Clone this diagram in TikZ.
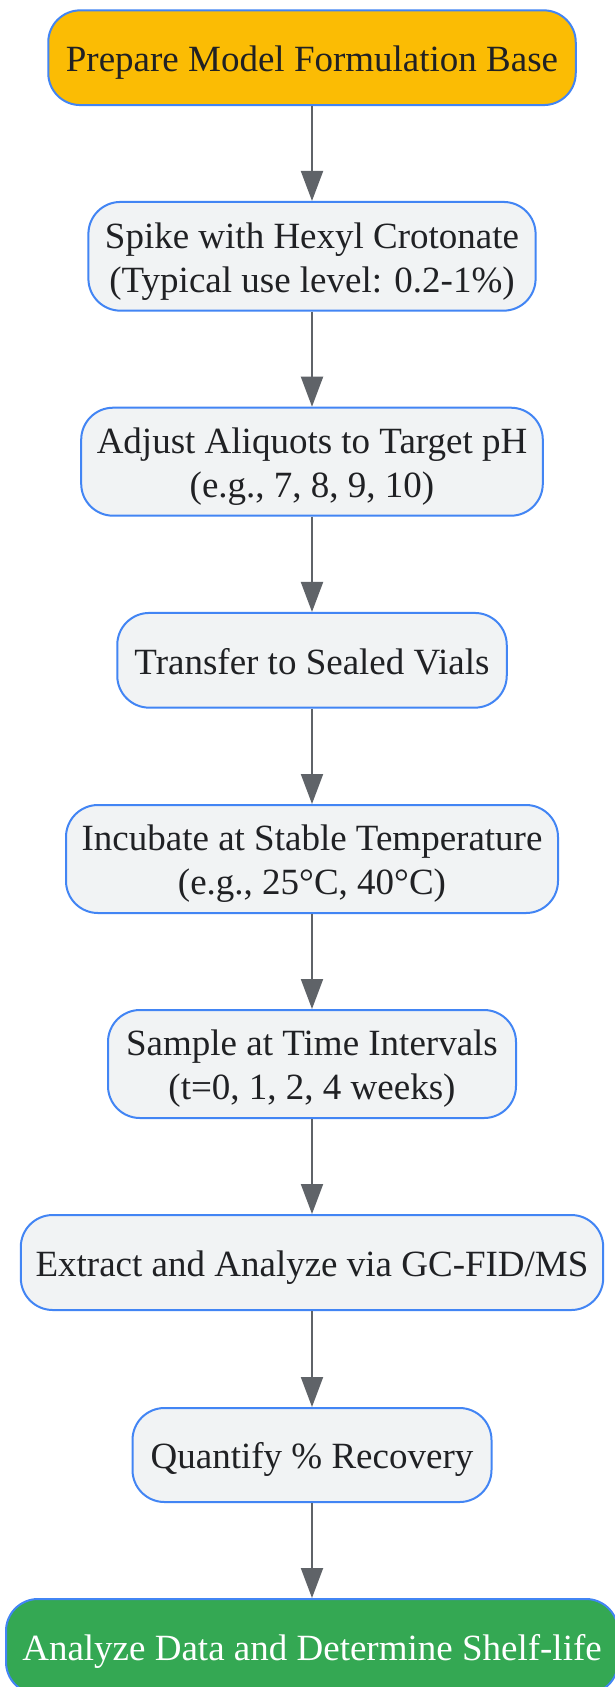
\documentclass[tikz,border=0pt]{standalone}
\usepackage{fontspec}
\setmainfont{Liberation Serif}
\usetikzlibrary{arrows.meta}
\definecolor{nodeblue}{HTML}{4285F4}
\definecolor{nodegray}{HTML}{F1F3F4}
\definecolor{startyellow}{HTML}{FBBC04}
\definecolor{endgreen}{HTML}{34A853}
\definecolor{textdark}{HTML}{202124}
\definecolor{arrowgray}{HTML}{5F6368}
\newcommand{\nodelines}[1]{\raisebox{-5pt}[\height][\depth]{\begin{tabular}{@{}c@{}}#1\end{tabular}}}
\begin{document}
\begin{tikzpicture}[x=1pt,y=-1pt,
  stepbox/.style={rectangle, rounded corners=32pt, draw=nodeblue, line width=2pt,
    fill=nodegray, text=textdark, inner sep=0pt,
    font=\fontsize{37}{44}\selectfont},
  flow/.style={draw=arrowgray, line width=2pt, -{Triangle[length=30pt,width=22pt]}}]
\useasboundingbox (0,0) rectangle (615,1687);
\fill[white] (0,0) rectangle (615,1687);
\clip (0,0) rectangle (615,1687);
\node[stepbox, fill=startyellow, minimum width=527.5pt, minimum height=94.7pt] (n1) at (312,57.7) {\nodelines{Prepare Model Formulation Base}};
\node[stepbox, minimum width=447.2pt, minimum height=108.7pt] (n2) at (312,256.3) {\nodelines{Spike with Hexyl Crotonate\\(Typical use level: 0.2-1\%)}};
\node[stepbox, minimum width=461.6pt, minimum height=108pt] (n3) at (312,461.7) {\nodelines{Adjust Aliquots to Target pH\\(e.g., 7, 8, 9, 10)}};
\node[stepbox, minimum width=389.5pt, minimum height=94.7pt] (n4) at (312,660.3) {\nodelines{Transfer to Sealed Vials}};
\node[stepbox, minimum width=492pt, minimum height=108pt] (n5) at (312,859) {\nodelines{Incubate at Stable Temperature\\(e.g., 25°C, 40°C)}};
\node[stepbox, minimum width=408pt, minimum height=108pt] (n6) at (312,1064) {\nodelines{Sample at Time Intervals\\(t=0, 1, 2, 4 weeks)}};
\node[stepbox, minimum width=582.4pt, minimum height=95pt] (n7) at (312,1262.5) {\nodelines{Extract and Analyze via GC-FID/MS}};
\node[stepbox, minimum width=359pt, minimum height=94pt] (n8) at (312,1455) {\nodelines{Quantify \% Recovery}};
\node[stepbox, fill=endgreen, text=white, minimum width=612pt, minimum height=95pt] (n9) at (312,1646.5) {\nodelines{Analyze Data and Determine Shelf-life}};
\draw[flow] (n1) -- (n2);
\draw[flow] (n2) -- (n3);
\draw[flow] (n3) -- (n4);
\draw[flow] (n4) -- (n5);
\draw[flow] (n5) -- (n6);
\draw[flow] (n6) -- (n7);
\draw[flow] (n7) -- (n8);
\draw[flow] (n8) -- (n9);
\end{tikzpicture}
\end{document}
